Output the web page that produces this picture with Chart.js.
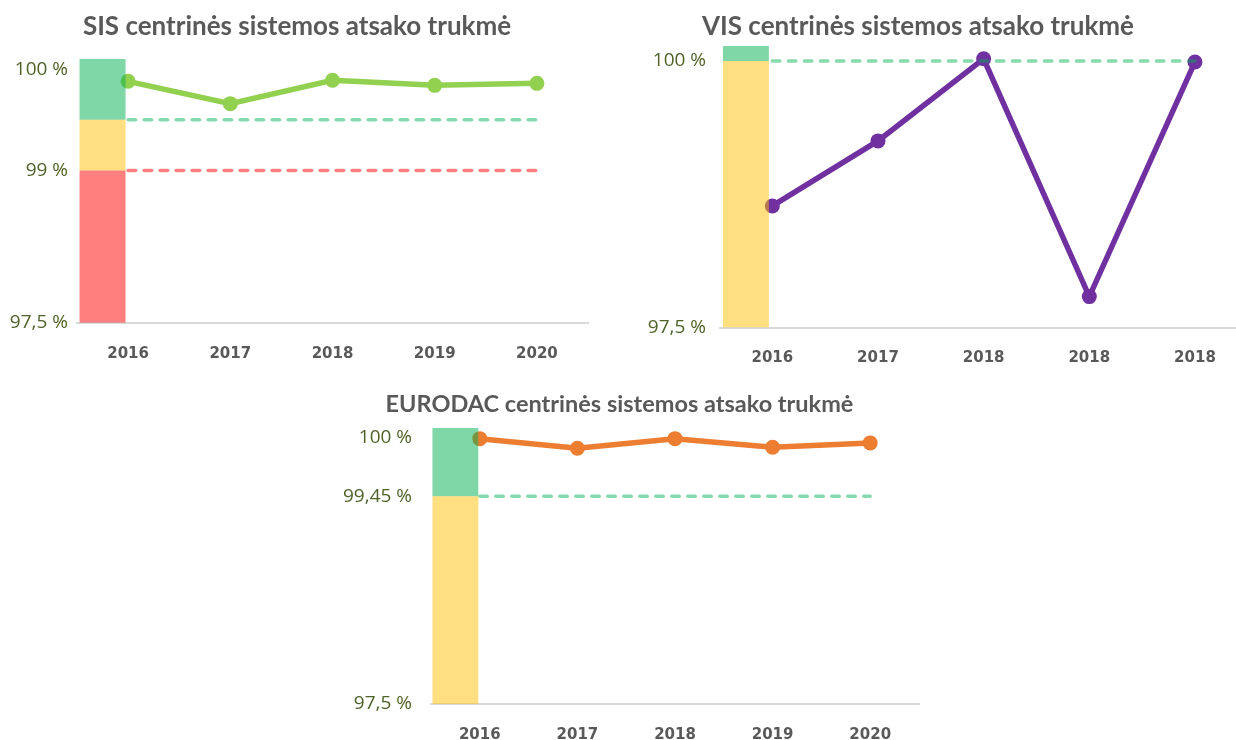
<!DOCTYPE html>
<html lang="lt">
<head>
<meta charset="utf-8">
<title>Centrinių sistemų atsako trukmė</title>
<script src="https://cdn.jsdelivr.net/npm/chart.js@4.4.1/dist/chart.umd.min.js"></script>
<style>
  html, body { margin: 0; padding: 0; background: #fff; overflow: hidden; }
  body { width: 1236px; height: 740px; position: relative; }
  .box { position: absolute; }
</style>
</head>
<body>
<div class="box" style="left:0;top:0;width:600px;height:370px"><canvas id="sis"></canvas></div>
<div class="box" style="left:580px;top:0;width:680px;height:370px"><canvas id="vis"></canvas></div>
<div class="box" style="left:300px;top:375px;width:631px;height:365px"><canvas id="eurodac"></canvas></div>
<script>
// --- data ---
const years = ['2016', '2017', '2018', '2019', '2020'];
const visYears = ['2016', '2017', '2018', '2018', '2018'];

const sisValues = [99.88, 99.66, 99.89, 99.84, 99.86];
const sisRed = [97.5, 99];
const sisYellow = [99, 99.5];
const sisGreen = [99.5, 100.1];
const sisTargetHigh = 99.5;
const sisTargetLow = 99;
const sisTicks = [97.5, 99, 100];

const visValues = [98.64, 99.25, 100.02, 97.79, 99.99];
const visYellow = [97.5, 100];
const visGreen = [100, 100.14];
const visTarget = 100;
const visTicks = [97.5, 100];

const euValues = [99.99, 99.9, 99.99, 99.91, 99.95];
const euYellow = [97.5, 99.45];
const euGreen = [99.45, 100.09];
const euTarget = 99.45;
const euTicks = [97.5, 99.45, 100];

const GREEN = 'rgba(0,176,80,0.5)';
const YELLOW = 'rgba(255,192,0,0.5)';
const RED = 'rgba(255,0,0,0.5)';

// colored band drawn as a floating bar in the first category, left half
function band(labels, range, color, pct) {
  return {
    type: 'bar', stack: 'band', order: 0,
    data: labels.map((_, i) => (i === 0 ? range : null)),
    backgroundColor: color, borderWidth: 0,
    barPercentage: pct, categoryPercentage: 1,
  };
}
// empty bar so the band only takes the left half of the slot
function pad(labels, pct) {
  return { type: 'bar', stack: 'pad', data: labels.map(() => null), barPercentage: pct, categoryPercentage: 1 };
}
function target(labels, value, color) {
  return {
    type: 'line', order: 1, data: labels.map(() => value),
    borderColor: color, borderWidth: 3.5, borderDash: [7.5, 8.5], borderCapStyle: 'round',
    pointRadius: 0, fill: false,
  };
}
function series(values, color) {
  return {
    type: 'line', order: 2, data: values,
    borderColor: color, backgroundColor: color, borderWidth: 5.5,
    pointRadius: 7.5, pointBorderWidth: 0, tension: 0, fill: false,
  };
}

function build(id, labels, datasets, o) {
  new Chart(document.getElementById(id), {
    type: 'bar',
    data: { labels, datasets },
    options: {
      responsive: true, maintainAspectRatio: false, animation: false,
      layout: { padding: { left: o.padLeft, right: o.padRight, top: 0, bottom: 0 } },
      plugins: {
        legend: { display: false },
        tooltip: { enabled: false },
        title: {
          display: true, text: o.title, color: '#595959',
          font: { family: 'Lato', size: o.titleSize, weight: 'bold' },
          padding: { top: o.titleTop, bottom: o.titleBottom },
        },
      },
      scales: {
        x: {
          stacked: true,
          grid: { display: false, drawTicks: false },
          border: { color: '#d9d9d9', width: 2 },
          ticks: { color: '#595959', font: { family: 'DejaVu Sans', size: 15, weight: 'bold' }, padding: 22, maxRotation: 0 },
          afterFit: (s) => { s.height = o.xHeight; },
        },
        y: {
          stacked: false, min: o.min, max: o.max,
          grid: { display: false, drawTicks: false },
          border: { display: false },
          afterBuildTicks: (s) => { s.ticks = o.ticks.map((v) => ({ value: v })); },
          ticks: {
            color: '#4f6228', font: { family: 'Open Sans', size: 19 }, padding: o.tickPad,
            callback: (v) => String(v).replace('.', ',') + ' %',
          },
          afterFit: (s) => { s.width = o.yWidth; },
        },
      },
    },
  });
}

build('sis', years, [
  band(years, sisRed, RED, 0.9),
  band(years, sisYellow, YELLOW, 0.9),
  band(years, sisGreen, GREEN, 0.9),
  pad(years, 0.9),
  target(years, sisTargetHigh, 'rgba(0,176,80,0.47)'),
  target(years, sisTargetLow, 'rgba(255,0,0,0.5)'),
  series(sisValues, '#92d050'),
], {
  title: 'SIS centrinės sistemos atsako trukmė', titleSize: 26, min: sisRed[0], max: sisGreen[1], ticks: sisTicks,
  padLeft: 6, padRight: 12, yWidth: 71, tickPad: 9, titleTop: 11.4, titleBottom: 16.4, xHeight: 47.3,
});

build('vis', visYears, [
  band(visYears, visYellow, YELLOW, 0.87),
  band(visYears, visGreen, GREEN, 0.87),
  pad(visYears, 0.87),
  target(visYears, visTarget, 'rgba(0,176,80,0.47)'),
  series(visValues, '#7030a0'),
], {
  title: 'VIS centrinės sistemos atsako trukmė', titleSize: 26, min: visYellow[0], max: visGreen[1], ticks: visTicks,
  padLeft: 8.2, padRight: 12.2, yWidth: 131.3, tickPad: 13.5, titleTop: 11.4, titleBottom: 3.4, xHeight: 42.5,
});

build('eurodac', years, [
  band(years, euYellow, YELLOW, 0.94),
  band(years, euGreen, GREEN, 0.94),
  pad(years, 0.94),
  target(years, euTarget, 'rgba(0,176,80,0.47)'),
  series(euValues, '#ed7d31'),
], {
  title: 'EURODAC centrinės sistemos atsako trukmė', titleSize: 23.5, min: euYellow[0], max: euGreen[1], ticks: euTicks,
  padLeft: 20, padRight: 12, yWidth: 111, tickPad: 19, titleTop: 15.3, titleBottom: 9.5, xHeight: 36,
});
</script>
</body>
</html>
